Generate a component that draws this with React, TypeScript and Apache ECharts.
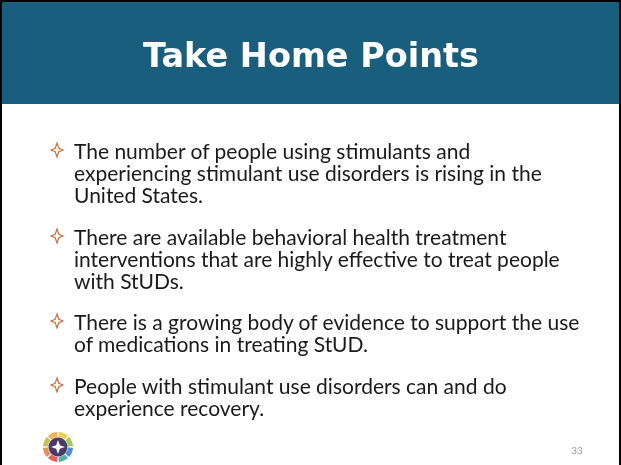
import React, { useEffect, useRef } from "react";
import * as echarts from "echarts";

const titleText = "Take Home Points";
const bullet1 = [
  "The number of people using stimulants and",
  "experiencing stimulant use disorders is rising in the",
  "United States.",
];
const bullet2 = [
  "There are available behavioral health treatment",
  "interventions that are highly effective to treat people",
  "with StUDs.",
];
const bullet3 = [
  "There is a growing body of evidence to support the use",
  "of medications in treating StUD.",
];
const bullet4 = [
  "People with stimulant use disorders can and do",
  "experience recovery.",
];
const bullets = [bullet1, bullet2, bullet3, bullet4];
const bulletTops = [150, 236, 321, 385];
const pageNumber = "33";
const logoColors = ["#e9c53a", "#8fbf3f", "#2f7fc1", "#3aa0a0", "#d9453a", "#e07b39", "#c9b13a", "#f0a53a"];

function starPoints(cx: number, cy: number, rx: number, ry: number, i: number) {
  return [
    [cx, cy - ry],
    [cx + i, cy - i],
    [cx + rx, cy],
    [cx + i, cy + i],
    [cx, cy + ry],
    [cx - i, cy + i],
    [cx - rx, cy],
    [cx - i, cy - i],
  ];
}

export default function App() {
  const ref = useRef<HTMLDivElement>(null);
  useEffect(() => {
    if (!ref.current) return;
    const chart = echarts.init(ref.current, null, { renderer: "svg" });
    const elements: any[] = [];
    elements.push({ type: "rect", shape: { x: 0, y: 0, width: 621, height: 465 }, style: { fill: "#ffffff" } });
    elements.push({ type: "rect", shape: { x: 0, y: 0, width: 621, height: 470 }, style: { fill: "none", stroke: "#000", lineWidth: 4 } });
    elements.push({ type: "rect", shape: { x: 2, y: 2, width: 617, height: 102 }, style: { fill: "#1a5e7e" } });
    elements.push({
      type: "text",
      x: 311,
      y: 55,
      style: {
        text: titleText,
        fill: "#ffffff",
        font: "bold 33.5px 'DejaVu Sans'",
        textAlign: "center",
        textVerticalAlign: "middle",
      },
    });
    bullets.forEach((lines, k) => {
      const top = bulletTops[k];
      elements.push({
        type: "polygon",
        shape: { points: starPoints(57, top, 6, 7, 1.8) },
        style: { fill: "none", stroke: "#c8703f", lineWidth: 1.2 },
      });
      lines.forEach((ln, j) => {
        elements.push({
          type: "text",
          x: 74,
          y: top + j * 22,
          style: {
            text: ln,
            fill: "#1a1a1a",
            font: "21px Lato",
            textAlign: "left",
            textVerticalAlign: "middle",
          },
        });
      });
    });
    const lx = 58, ly = 447;
    logoColors.forEach((c, k) => {
      const a0 = -Math.PI / 2 + (k * 2 * Math.PI) / logoColors.length;
      elements.push({
        type: "sector",
        shape: { cx: lx, cy: ly, r: 15, r0: 10, startAngle: a0 + 0.05, endAngle: a0 + (2 * Math.PI) / logoColors.length - 0.05 },
        style: { fill: c, opacity: 0.85 },
      });
    });
    elements.push({ type: "circle", shape: { cx: lx, cy: ly, r: 9.5 }, style: { fill: "#4a3a68" } });
    elements.push({
      type: "polygon",
      shape: { points: starPoints(lx, ly, 7, 7, 1.8) },
      style: { fill: "#ffffff" },
    });
    elements.push({
      type: "text",
      x: 577,
      y: 450,
      style: { text: pageNumber, fill: "#9a9a9a", font: "10px Lato", textAlign: "center", textVerticalAlign: "middle" },
    });
    chart.setOption({ animation: false, graphic: { elements } });
    return () => chart.dispose();
  }, []);
  return <div ref={ref} style={{ position: "fixed", left: 0, top: 0, width: 621, height: 465 }} />;
}
